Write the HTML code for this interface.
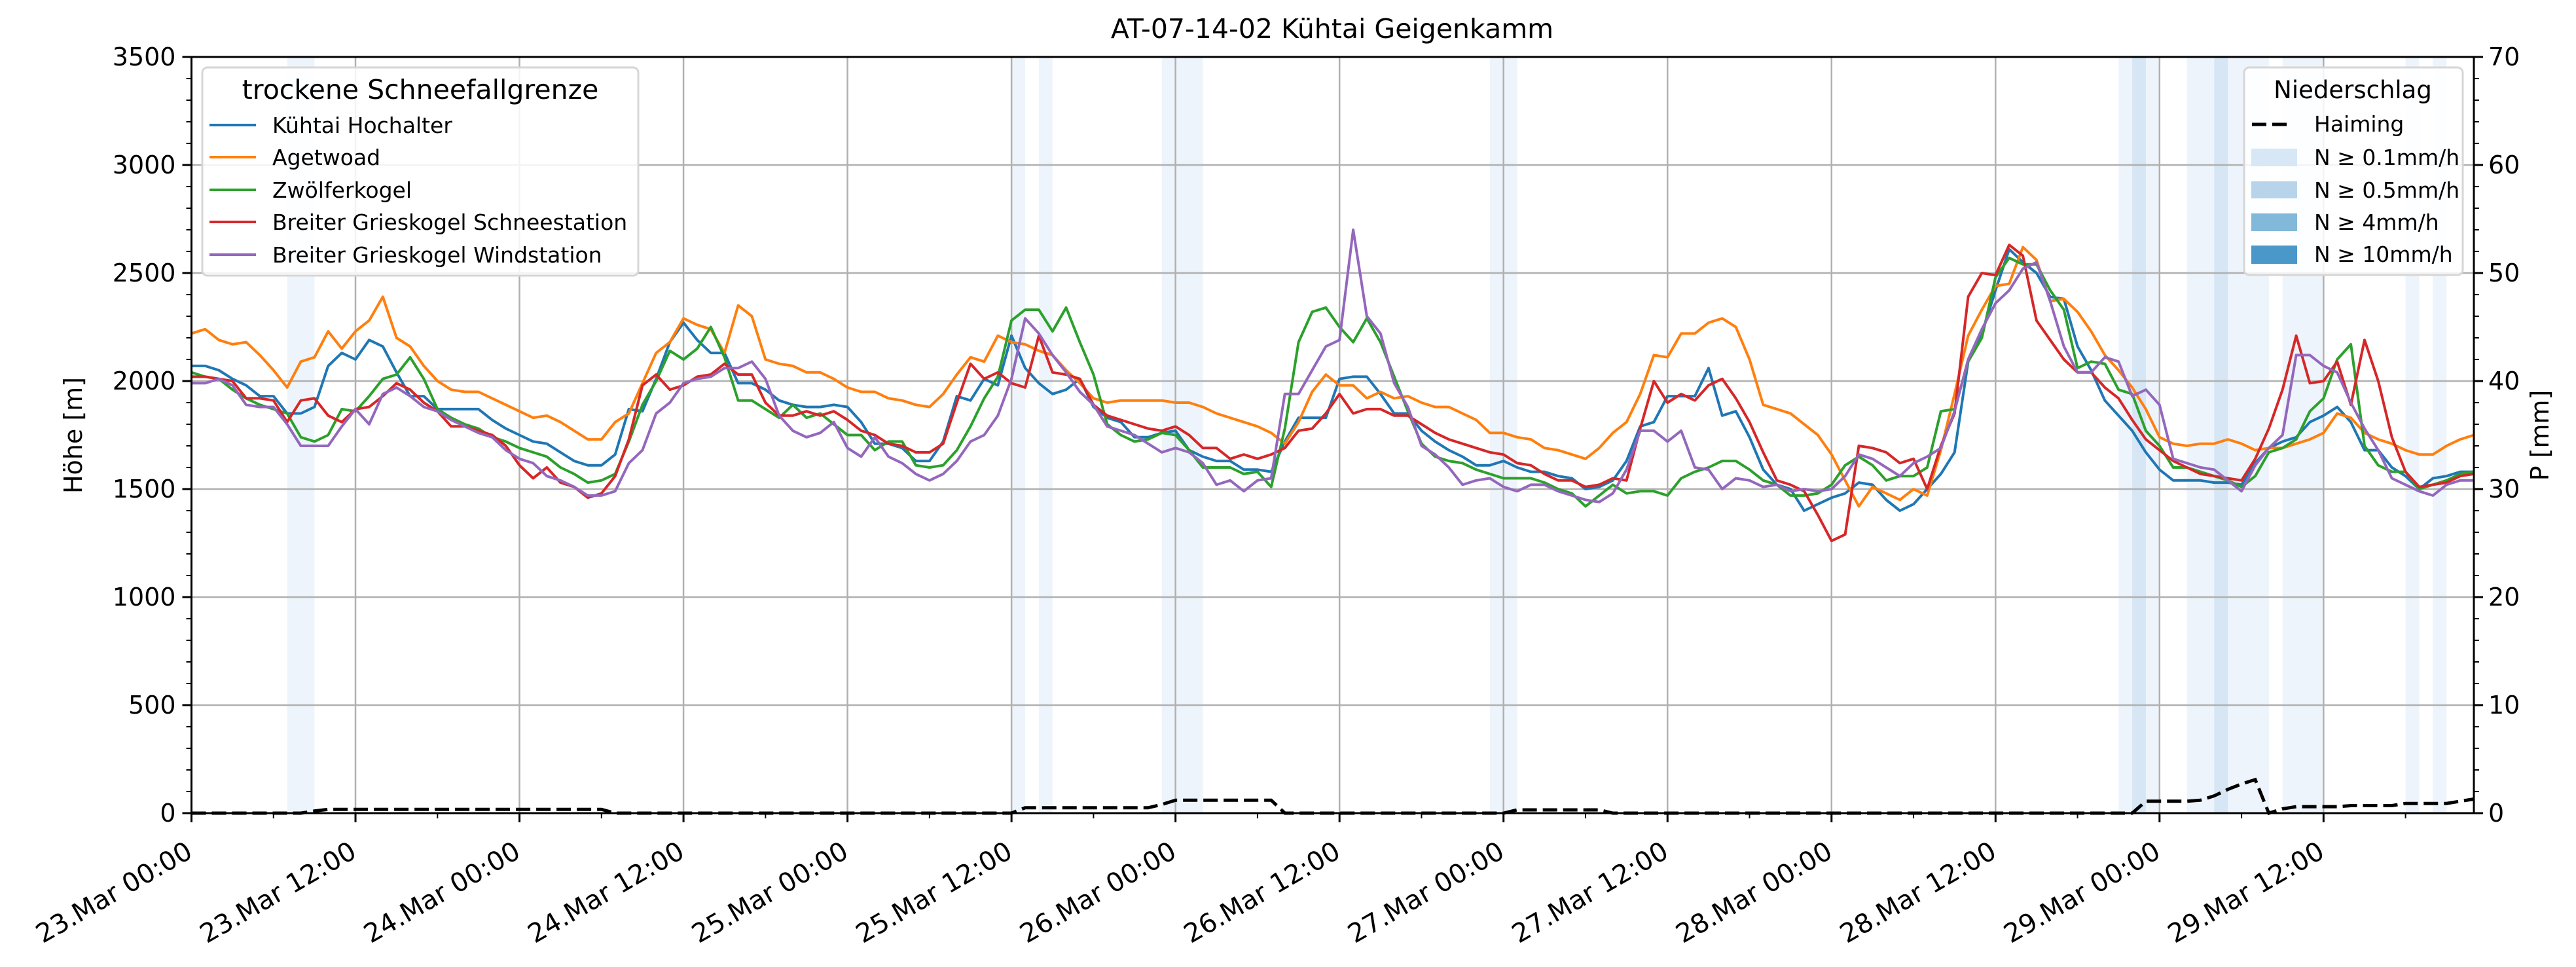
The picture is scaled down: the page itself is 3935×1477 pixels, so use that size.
<!DOCTYPE html>
<html><head><meta charset="utf-8"><style>
html,body{margin:0;padding:0;background:#fff;}
svg{display:block;font-family:"DejaVu Sans","Liberation Sans",sans-serif;}
</style></head><body>
<svg id="chart" width="3935" height="1477" viewBox="0 0 3935 1477" xmlns="http://www.w3.org/2000/svg">
<rect width="3935" height="1477" fill="#fff"/>
<g id="bands"></g>
<g id="grid"></g>
<g id="series"></g>
<g id="axes"></g>
<text x="2035" y="58" text-anchor="middle" font-size="41">AT-07-14-02 Kühtai Geigenkamm</text>
<text transform="translate(125,665) rotate(-90)" text-anchor="middle" font-size="38">Höhe [m]</text>
<text transform="translate(3893,665) rotate(-90)" text-anchor="middle" font-size="38">P [mm]</text>
<g>
<rect x="309" y="103" width="666" height="318" rx="8" fill="#fff" fill-opacity="0.85" stroke="#d6d6d6" stroke-width="3"/>
<text x="642" y="151" text-anchor="middle" font-size="41">trockene Schneefallgrenze</text>
<g><line x1="320" y1="191" x2="391" y2="191" stroke="#1f77b4" stroke-width="4"/><text x="416" y="203" font-size="33">Kühtai Hochalter</text></g>
<g><line x1="320" y1="240" x2="391" y2="240" stroke="#ff7f0e" stroke-width="4"/><text x="416" y="252" font-size="33">Agetwoad</text></g>
<g><line x1="320" y1="290" x2="391" y2="290" stroke="#2ca02c" stroke-width="4"/><text x="416" y="302" font-size="33">Zwölferkogel</text></g>
<g><line x1="320" y1="339" x2="391" y2="339" stroke="#d62728" stroke-width="4"/><text x="416" y="351" font-size="33">Breiter Grieskogel Schneestation</text></g>
<g><line x1="320" y1="389" x2="391" y2="389" stroke="#9467bd" stroke-width="4"/><text x="416" y="401" font-size="33">Breiter Grieskogel Windstation</text></g>
</g>
<g>
<rect x="3428" y="103" width="334" height="317" rx="8" fill="#fff" fill-opacity="0.85" stroke="#d6d6d6" stroke-width="3"/>
<text x="3594" y="150" text-anchor="middle" font-size="37">Niederschlag</text>
<g><line x1="3440" y1="190" x2="3500" y2="190" stroke="#000" stroke-width="5" stroke-dasharray="22,9"/><text x="3535" y="201" font-size="33">Haiming</text></g>
<g><rect x="3439" y="227" width="70" height="27" fill="#d8e7f5"/><text x="3535" y="252" font-size="33">N ≥ 0.1mm/h</text></g>
<g><rect x="3439" y="277" width="70" height="26" fill="#b8d4ea"/><text x="3535" y="302" font-size="33">N ≥ 0.5mm/h</text></g>
<g><rect x="3439" y="326" width="70" height="27" fill="#82b8d9"/><text x="3535" y="351" font-size="33">N ≥ 4mm/h</text></g>
<g><rect x="3439" y="375" width="70" height="28" fill="#4a98c9"/><text x="3535" y="400" font-size="33">N ≥ 10mm/h</text></g>
</g>
</svg>
<script>
const hoursTotal = 167;
const xTickLabels = ["23.Mar 00:00","23.Mar 12:00","24.Mar 00:00","24.Mar 12:00","25.Mar 00:00","25.Mar 12:00","26.Mar 00:00","26.Mar 12:00","27.Mar 00:00","27.Mar 12:00","28.Mar 00:00","28.Mar 12:00","29.Mar 00:00","29.Mar 12:00"];
const yTicks = [0,500,1000,1500,2000,2500,3000,3500];
const y2Ticks = [0,10,20,30,40,50,60,70];
const seriesNames = ["Kühtai Hochalter","Agetwoad","Zwölferkogel","Breiter Grieskogel Schneestation","Breiter Grieskogel Windstation"];
const hochalter = [2070,2070,2050,2010,1980,1930,1930,1850,1850,1880,2070,2130,2100,2190,2160,2040,1930,1930,1870,1870,1870,1870,1820,1780,1750,1720,1710,1670,1630,1610,1610,1660,1870,1860,2010,2180,2270,2190,2130,2130,1990,1990,1960,1910,
1890,1880,1880,1890,1880,1810,1710,1710,1690,1630,1630,1720,1930,1910,2010,1980,2210,2060,1990,1940,1960,2010,1880,1830,1810,1740,1740,1760,1770,1680,1650,1630,1630,1590,1590,1580,1720,1830,1830,1830,2010,2020,
2020,1940,1850,1850,1770,1720,1680,1650,1610,1610,1630,1600,1580,1580,1560,1550,1500,1510,1540,1630,1790,1810,1930,1930,1930,2060,1840,1860,1740,1590,1520,1500,1400,1430,1460,1480,1530,1520,1450,
1400,1430,1500,1570,1670,2090,2220,2420,2610,2550,2500,2390,2380,2160,2050,1910,1840,1770,1670,1590,1540,1540,1540,1530,1530,1520,1620,1690,1720,1740,1810,1840,1880,1810,1680,1680,1600,1560,1500,1550,1560,1580,1580];
const agetwoad = [2220,2240,2190,2170,2180,2120,2050,1970,2090,2110,2230,2150,2230,2280,2390,2200,2160,2070,2000,1960,1950,1950,1920,1890,1860,1830,1840,1810,1770,1730,1730,1810,1850,1990,2130,2180,2290,2260,2240,2130,2350,2300,2100,2080,
2070,2040,2040,2010,1970,1950,1950,1920,1910,1890,1880,1940,2030,2110,2090,2210,2180,2170,2140,2120,2050,1990,1920,1900,1910,1910,1910,1910,1900,1900,1880,1850,1830,1810,1790,1760,1710,1810,1950,2030,1980,1980,
1920,1950,1920,1930,1900,1880,1880,1850,1820,1760,1760,1740,1730,1690,1680,1660,1640,1690,1760,1810,1940,2120,2110,2220,2220,2270,2290,2250,2100,1890,1870,1850,1800,1750,1660,1540,1420,1510,1480,
1450,1500,1470,1680,1940,2210,2330,2440,2450,2620,2560,2370,2380,2320,2230,2120,2050,1970,1870,1740,1710,1700,1710,1710,1730,1710,1680,1690,1690,1710,1730,1760,1850,1830,1760,1730,1710,1680,1660,1660,1700,1730,1750];
const zwoelferkogel = [2040,2020,2010,1960,1920,1890,1870,1850,1740,1720,1750,1870,1860,1930,2010,2030,2110,2010,1870,1830,1800,1780,1740,1720,1690,1670,1650,1600,1570,1530,1540,1570,1720,1890,2000,2140,2100,2150,2250,2110,1910,1910,1870,1830,
1890,1830,1850,1800,1750,1750,1680,1720,1720,1610,1600,1610,1680,1790,1920,2020,2280,2330,2330,2230,2340,2180,2030,1800,1750,1720,1730,1760,1750,1680,1600,1600,1600,1570,1580,1510,1780,2180,2320,2340,2250,2180,
2290,2180,2020,1860,1710,1650,1630,1620,1590,1570,1550,1550,1550,1530,1500,1480,1420,1470,1520,1480,1490,1490,1470,1550,1580,1600,1630,1630,1590,1540,1520,1470,1470,1480,1520,1610,1650,1610,1540,
1560,1560,1600,1860,1870,2090,2200,2480,2570,2540,2540,2420,2330,2060,2090,2080,1960,1940,1770,1700,1600,1600,1580,1560,1540,1510,1560,1670,1690,1730,1860,1920,2100,2170,1700,1610,1580,1580,1500,1520,1540,1570,1580];
const schneestation = [2020,2020,2010,2000,1920,1920,1910,1810,1910,1920,1840,1810,1870,1880,1930,1990,1960,1900,1860,1790,1790,1770,1750,1700,1610,1550,1600,1530,1510,1460,1480,1560,1730,1980,2030,1960,1980,2020,2030,2080,2030,2030,1900,1840,
1840,1860,1840,1860,1820,1770,1750,1710,1700,1670,1670,1710,1900,2080,2010,2040,1990,1970,2210,2040,2030,2010,1890,1840,1820,1800,1780,1770,1790,1750,1690,1690,1640,1660,1640,1660,1690,1770,1780,1850,1940,1850,
1870,1870,1840,1840,1800,1760,1730,1710,1690,1670,1660,1620,1610,1570,1540,1540,1510,1520,1550,1540,1780,2000,1900,1940,1910,1980,2010,1920,1810,1670,1540,1520,1490,1380,1260,1290,1700,1690,1670,
1620,1640,1500,1700,1850,2390,2500,2490,2630,2580,2280,2190,2100,2040,2040,1970,1920,1820,1730,1680,1630,1600,1570,1560,1550,1540,1640,1780,1960,2210,1990,2000,2090,1890,2190,2000,1740,1580,1510,1520,1530,1560,1570];
const windstation = [1990,1990,2010,1980,1890,1880,1880,1800,1700,1700,1700,1790,1870,1800,1940,1970,1930,1880,1860,1820,1790,1760,1740,1680,1640,1620,1560,1540,1510,1470,1470,1490,1620,1680,1850,1900,1990,2010,2020,2060,2060,2090,2010,1840,
1770,1740,1760,1810,1690,1650,1740,1650,1620,1570,1540,1570,1630,1720,1750,1840,2010,2290,2220,2120,2040,1950,1890,1790,1770,1750,1710,1670,1690,1670,1620,1520,1540,1490,1540,1550,1940,1940,2050,2160,2190,2700,
2300,2220,1990,1880,1700,1660,1600,1520,1540,1550,1510,1490,1520,1520,1490,1470,1450,1440,1480,1590,1770,1770,1720,1770,1600,1590,1500,1550,1540,1510,1520,1490,1500,1490,1500,1560,1660,1640,1600,
1560,1620,1650,1690,1860,2100,2240,2360,2420,2520,2550,2370,2160,2040,2040,2110,2090,1930,1960,1890,1640,1620,1600,1590,1540,1490,1610,1690,1750,2120,2120,2070,2040,1900,1780,1680,1550,1520,1490,1470,1520,1540,1540];
const precipHaiming = [0,0,0,0,0,0,0,0,0,0.2,
0.35,0.35,0.35,0.35,0.35,0.35,0.35,0.35,0.35,0.35,0.35,0.35,0.35,0.35,0.35,0.35,0.35,0.35,0.35,0.35,0.35,
0,0,0,0,0,0,0,0,0,0,0,0,0,0,0,0,0,0,0,0,0,0,0,0,0,0,0,0,0,0,
0.5,0.5,0.5,0.5,0.5,0.5,0.5,0.5,0.5,0.5,0.8,
1.2,1.2,1.2,1.2,1.2,1.2,1.2,1.2,
0,0,0,0,0,0,0,0,0,0,0,0,0,0,0,0,0,
0.3,0.3,0.3,0.3,0.3,0.3,0.3,
0,0,0,0,0,0,0,0,0,0,0,0,0,0,0,0,0,0,0,0,0,0,0,0,0,0,0,0,0,0,0,0,0,0,0,0,0,0,0,
1.1,1.1,1.1,1.1,1.2,1.6,2.2,2.7,3.1,0,0.4,0.6,0.6,0.6,0.6,0.7,0.7,0.7,0.7,0.9,0.9,0.9,0.9,1.1,1.3];
const bandStart = [7,60,62,71,95,141,142,146,148,153,162,164];
const bandEnd =   [9,61,63,74,97,144,143,152,149,156,163,165];
const bandLevel = [1,1,1,1,1,1,2,1,2,1,1,1];

const L=292.5,R=3779,T=87,B=1242;
const xs=h=>L+(R-L)*h/hoursTotal;
const ys=v=>B-(B-T)*v/3500;
const ys2=v=>B-(B-T)*v/70;
const NS='http://www.w3.org/2000/svg';
function mk(tag,attrs,parent){const e=document.createElementNS(NS,tag);for(const k in attrs)e.setAttribute(k,attrs[k]);parent.appendChild(e);return e;}
const gB=document.getElementById('bands'),gG=document.getElementById('grid'),gS=document.getElementById('series'),gA=document.getElementById('axes');

const bandColors={1:'#eef4fb',2:'#d6e6f4',3:'#82b8d9',4:'#4a98c9'};
for(let i=0;i<bandStart.length;i++){
  const r=mk('rect',{x:xs(bandStart[i]),y:T,width:xs(bandEnd[i])-xs(bandStart[i]),height:B-T,fill:bandColors[bandLevel[i]]},gB);
  
  
}
for(let i=0;i<xTickLabels.length;i++){
  const x=xs(i*12);
  const g=mk('line',{x1:x,y1:T,x2:x,y2:B,stroke:'#b0b0b0','stroke-width':2.5},gG);
  
  
}
yTicks.forEach(v=>{
  const g=mk('line',{x1:L,y1:ys(v),x2:R,y2:ys(v),stroke:'#b0b0b0','stroke-width':2.5},gG);
  
  
});

const all=[hochalter,agetwoad,zwoelferkogel,schneestation,windstation];
const colors=['#1f77b4','#ff7f0e','#2ca02c','#d62728','#9467bd'];
all.forEach((arr,si)=>{
  const d=arr.map((v,i)=>(i?'L':'M')+xs(i).toFixed(1)+','+ys(v).toFixed(1)).join('');
  const p=mk('path',{d:d,fill:'none',stroke:colors[si],'stroke-width':4,'stroke-linejoin':'round'},gS);
  
  
});
{
  const d=precipHaiming.map((v,i)=>(i?'L':'M')+xs(i).toFixed(1)+','+ys2(v).toFixed(1)).join('');
  const p=mk('path',{d:d,fill:'none',stroke:'#000','stroke-width':5,'stroke-dasharray':'22,9'},gS);
  
  
}

const fr=mk('rect',{x:L,y:T,width:R-L,height:B-T,fill:'none',stroke:'#000','stroke-width':3},gA);


for(let v=0;v<=3500;v+=100){
  const major=v%500===0;
  mk('line',{x1:L,y1:ys(v),x2:L-(major?14:8),y2:ys(v),stroke:'#000','stroke-width':major?3:2},gA);
}
yTicks.forEach(v=>{
  const t=mk('text',{x:L-24,y:ys(v)+13,'text-anchor':'end','font-size':38},gA);
  t.textContent=v;
  
  
});
for(let v=0;v<=70;v+=2){
  const major=v%10===0;
  mk('line',{x1:R,y1:ys2(v),x2:R+(major?14:8),y2:ys2(v),stroke:'#000','stroke-width':major?3:2},gA);
}
y2Ticks.forEach(v=>{
  const t=mk('text',{x:R+22,y:ys2(v)+13,'font-size':38},gA);
  t.textContent=v;
  
  
});
for(let h=0;h<=hoursTotal;h+=6){
  const major=h%12===0;
  mk('line',{x1:xs(h),y1:B,x2:xs(h),y2:B+(major?14:8),stroke:'#000','stroke-width':major?3:2},gA);
}
xTickLabels.forEach((lab,i)=>{
  const x=xs(i*12)+4,y=1308;
  const t=mk('text',{transform:'translate('+x+','+y+') rotate(-30)','text-anchor':'end','font-size':40},gA);
  t.textContent=lab;
  
  
});
</script>
</body></html>
